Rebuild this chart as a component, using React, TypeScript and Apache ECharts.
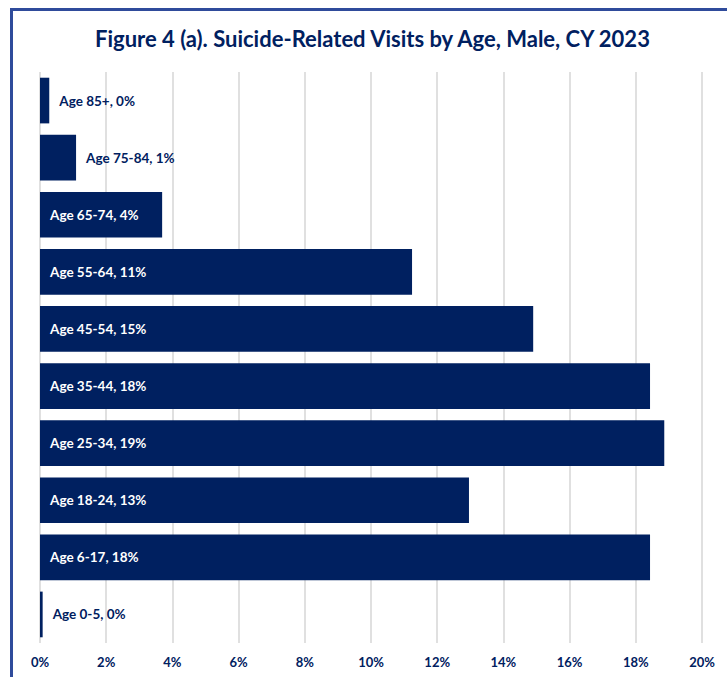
import React, { useEffect, useRef } from "react";
import * as echarts from "echarts";

const titleText = "Figure 4 (a). Suicide-Related Visits by Age, Male, CY 2023";
const ageGroups = ["0-5", "6-17", "18-24", "25-34", "35-44", "45-54", "55-64", "65-74", "75-84", "85+"];
const malePct = [0.08, 18.43, 12.96, 18.86, 18.43, 14.9, 11.24, 3.69, 1.09, 0.28];
const xTicks = [0, 2, 4, 6, 8, 10, 12, 14, 16, 18, 20];

const NAVY = "#002060";
const FONT = "Lato, 'Open Sans', sans-serif";

export default function App() {
  const ref = useRef<HTMLDivElement>(null);
  useEffect(() => {
    if (!ref.current) return;
    const chart = echarts.init(ref.current, null, { renderer: "svg" });
    const data = malePct.map((v, i) => {
      const small = v < 2;
      return {
        value: v,
        label: {
          show: true,
          position: small ? "right" : "insideLeft",
          distance: 10,
          color: small ? NAVY : "#ffffff",
          fontWeight: "bold",
          fontSize: 13.5,
          fontFamily: FONT,
          formatter: () => `Age ${ageGroups[i]}, ${Math.round(v)}%`,
        },
      };
    });
    chart.setOption({
      animation: false,
      backgroundColor: "#ffffff",
      title: {
        text: titleText,
        left: 90,
        top: 22,
        textStyle: { color: NAVY, fontSize: 22, fontWeight: "bold", fontFamily: FONT },
      },
      graphic: [
        {
          type: "rect",
          shape: { x: 11.5, y: 9.5, width: 800, height: 800 },
          style: { fill: "none", stroke: "#2f4b9b", lineWidth: 3 },
          silent: true,
        },
      ],
      grid: { left: 40, right: 25, top: 72, bottom: 34, containLabel: false },
      xAxis: {
        type: "value",
        min: 0,
        max: 20,
        interval: 2,
        axisLine: { show: false },
        axisTick: { show: false },
        splitLine: { show: true, lineStyle: { color: "#e0e0e0", width: 2 } },
        axisLabel: {
          margin: 12,
          color: NAVY,
          fontWeight: "bold",
          fontSize: 13,
          fontFamily: FONT,
          formatter: (v: number) => (xTicks.includes(v) ? `${v}%` : ""),
        },
      },
      yAxis: {
        type: "category",
        data: ageGroups,
        axisLine: { show: false },
        axisTick: { show: false },
        axisLabel: { show: false },
        splitLine: { show: false },
      },
      series: [
        {
          type: "bar",
          data,
          barCategoryGap: "20%",
          itemStyle: { color: NAVY },
        },
      ],
    });
    return () => chart.dispose();
  }, []);
  return (
    <div
      ref={ref}
      style={{ position: "fixed", left: 0, top: 0, width: 727, height: 677 }}
    />
  );
}
